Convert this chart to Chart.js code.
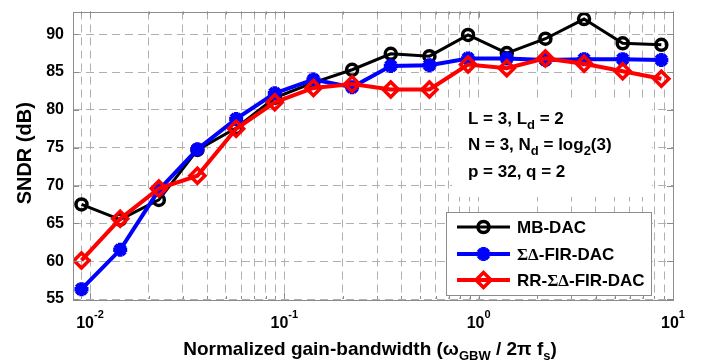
<!DOCTYPE html>
<html>
<head>
<meta charset="utf-8">
<script src="https://cdn.jsdelivr.net/npm/chart.js@4.4.0/dist/chart.umd.min.js"></script>
<style>
  html, body { margin: 0; padding: 0; background: #fff; }
  #wrap { width: 703px; height: 362px; position: relative; }
</style>
</head>
<body>
<div id="wrap"><canvas id="sndr"></canvas></div>
<script>
// normalized gain-bandwidth sweep (omega_GBW / 2 pi fs)
const gbw = [0.00904, 0.0143, 0.0226, 0.0357, 0.0565, 0.0893, 0.1412, 0.2232,
             0.3529, 0.558, 0.882, 1.395, 2.205, 3.486, 5.51, 8.71];

// SNDR in dB for each DAC
const sndrMB  = [67.5, 65.5, 68.1, 74.7, 77.6, 81.6, 83.6, 85.3, 87.4, 87.1, 89.9, 87.5, 89.4, 92.0, 88.8, 88.6];
const sndrFIR = [56.3, 61.5, 69.4, 74.8, 78.8, 82.2, 84.0, 83.0, 85.8, 85.9, 86.8, 86.8, 86.6, 86.7, 86.7, 86.6];
const sndrRR  = [60.1, 65.6, 69.6, 71.3, 77.5, 81.0, 82.9, 83.4, 82.7, 82.7, 86.0, 85.5, 86.8, 86.1, 85.1, 84.1];

const seriesNames = ['MB-DAC', 'ΣΔ-FIR-DAC', 'RR-ΣΔ-FIR-DAC'];

const yTicks = [55, 60, 65, 70, 75, 80, 85, 90];
const xDecades = [0.01, 0.1, 1, 10];
const xGrid = [0.009, 0.01, 0.02, 0.03, 0.04, 0.05, 0.06, 0.07, 0.08, 0.09,
               0.1, 0.2, 0.3, 0.4, 0.5, 0.6, 0.7, 0.8, 0.9,
               1, 2, 3, 4, 5, 6, 7, 8, 9, 10];

const SANS = '"Liberation Sans", Arial, sans-serif';
const SERIF = '"Liberation Serif", "Times New Roman", serif';
const GRID = '#b0b0b0';
const AXIS = '#8c8c8c';

function pts(ys) {
  return ys.map((y, i) => ({ x: gbw[i], y: y }));
}

// text runs with sub/superscripts: {t, size, dy, serif}
function runFont(p) {
  return 'bold ' + (p.size || 17) + 'px ' + (p.serif ? SERIF : SANS);
}
function richWidth(ctx, parts) {
  let w = 0;
  parts.forEach(p => { ctx.font = runFont(p); w += ctx.measureText(p.t).width; });
  return w;
}
function drawRich(ctx, parts, x, y, align) {
  let cx = x;
  if (align === 'center') cx = x - richWidth(ctx, parts) / 2;
  ctx.textAlign = 'left';
  ctx.textBaseline = 'alphabetic';
  parts.forEach(p => {
    ctx.font = runFont(p);
    ctx.fillText(p.t, cx, y + (p.dy || 0));
    cx += ctx.measureText(p.t).width;
  });
}

function drawMarker(ctx, ds, x, y) {
  ctx.save();
  ctx.lineWidth = ds.pointBorderWidth;
  ctx.strokeStyle = ds.borderColor;
  ctx.fillStyle = ds.pointBackgroundColor;
  Chart.helpers.drawPoint(ctx, {
    pointStyle: ds.pointStyle, radius: ds.pointRadius,
    borderWidth: ds.pointBorderWidth, rotation: 0
  }, x, y);
  ctx.restore();
}

const decor = {
  id: 'decor',
  beforeDatasetsDraw(chart) {
    const ctx = chart.ctx;
    // parameter box
    ctx.save();
    ctx.fillStyle = '#fff';
    ctx.fillRect(452, 100, 200, 97);
    ctx.fillStyle = '#000';
    drawRich(ctx, [{ t: 'L = 3, L' }, { t: 'd', size: 13, dy: 5 }, { t: ' = 2' }], 468, 124);
    drawRich(ctx, [{ t: 'N = 3, N' }, { t: 'd', size: 13, dy: 5 }, { t: ' = log' },
                   { t: '2', size: 13, dy: 5 }, { t: '(3)' }], 468, 150);
    drawRich(ctx, [{ t: 'p = 32, q = 2' }], 468, 177);
    ctx.restore();
  },
  afterDatasetsDraw(chart) {
    const ctx = chart.ctx;
    const a = chart.chartArea;
    const xs = chart.scales.x, ys = chart.scales.y;
    ctx.save();
    ctx.strokeStyle = AXIS;
    ctx.lineWidth = 1;
    ctx.setLineDash([]);
    // inward tick marks
    ctx.beginPath();
    xGrid.forEach(v => {
      const px = Math.round(xs.getPixelForValue(v)) + 0.5;
      const len = xDecades.includes(v) ? 6 : 3;
      ctx.moveTo(px, a.bottom); ctx.lineTo(px, a.bottom - len);
      ctx.moveTo(px, a.top); ctx.lineTo(px, a.top + len);
    });
    yTicks.forEach(v => {
      const py = Math.round(ys.getPixelForValue(v)) + 0.5;
      ctx.moveTo(a.left, py); ctx.lineTo(a.left + 6, py);
      ctx.moveTo(a.right, py); ctx.lineTo(a.right - 6, py);
    });
    ctx.stroke();
    ctx.strokeRect(Math.round(a.left) + 0.5, Math.round(a.top) + 0.5,
                   Math.round(a.right - a.left), Math.round(a.bottom - a.top));

    // legend
    ctx.fillStyle = '#fff';
    ctx.fillRect(446.5, 212.5, 205, 83);
    ctx.strokeRect(446.5, 212.5, 205, 83);
    const rows = [227, 254, 280];
    const labels = [
      [{ t: 'MB-DAC' }],
      [{ t: 'ΣΔ', serif: true }, { t: '-FIR-DAC' }],
      [{ t: 'RR-' }, { t: 'ΣΔ', serif: true }, { t: '-FIR-DAC' }]
    ];
    chart.data.datasets.forEach((ds, i) => {
      const y = rows[i];
      ctx.save();
      ctx.strokeStyle = ds.borderColor;
      ctx.lineWidth = ds.borderWidth;
      ctx.beginPath();
      ctx.moveTo(457, y); ctx.lineTo(510, y);
      ctx.stroke();
      ctx.restore();
      drawMarker(ctx, ds, 483.5, y);
      ctx.fillStyle = '#000';
      drawRich(ctx, labels[i], 517, y + 6);
    });
    ctx.restore();
  },
  afterDraw(chart) {
    const ctx = chart.ctx;
    const a = chart.chartArea;
    const xs = chart.scales.x;
    ctx.save();
    ctx.fillStyle = '#000';
    // decade labels 10^n
    xDecades.forEach(v => {
      const px = xs.getPixelForValue(v);
      const e = String(Math.round(Math.log10(v)));
      drawRich(ctx, [{ t: '10', size: 16 }, { t: e, size: 11, dy: -10 }], px, 328, 'center');
    });
    // x title
    drawRich(ctx, [
      { t: 'Normalized gain-bandwidth (', size: 19 },
      { t: 'ω', size: 19 },
      { t: 'GBW', size: 13, dy: 5 },
      { t: ' / 2π f', size: 19 },
      { t: 's', size: 13, dy: 5 },
      { t: ')', size: 19 }
    ], 370, 355, 'center');
    // y title
    ctx.translate(25, (a.top + a.bottom) / 2 - 2);
    ctx.rotate(-Math.PI / 2);
    ctx.font = 'bold 20px ' + SANS;
    ctx.textAlign = 'center';
    ctx.textBaseline = 'middle';
    ctx.fillText('SNDR (dB)', 0, 0);
    ctx.restore();
  }
};

const ctx = document.getElementById('sndr').getContext('2d');
new Chart(ctx, {
  type: 'line',
  data: {
    datasets: [
      {
        label: seriesNames[0], data: pts(sndrMB), order: 2,
        borderColor: '#000000', borderWidth: 3,
        pointStyle: 'circle', pointRadius: 5.5, pointBorderWidth: 3.5,
        pointBackgroundColor: 'rgba(0,0,0,0)'
      },
      {
        label: seriesNames[1], data: pts(sndrFIR), order: 1,
        borderColor: '#0000ff', borderWidth: 4,
        pointStyle: 'star', pointRadius: 7, pointBorderWidth: 4.5,
        pointBackgroundColor: '#0000ff'
      },
      {
        label: seriesNames[2], data: pts(sndrRR), order: 0,
        borderColor: '#ff0000', borderWidth: 4,
        pointStyle: 'rectRot', pointRadius: 7.5, pointBorderWidth: 3.5,
        pointBackgroundColor: 'rgba(0,0,0,0)'
      }
    ]
  },
  options: {
    responsive: true,
    maintainAspectRatio: false,
    animation: false,
    layout: { padding: { top: 7, right: 30, left: 0, bottom: 0 } },
    plugins: { legend: { display: false }, tooltip: { enabled: false } },
    elements: { line: { tension: 0 } },
    scales: {
      x: {
        type: 'logarithmic', min: 0.008175, max: 10,
        afterBuildTicks: s => { s.ticks = xGrid.map(v => ({ value: v })); },
        afterFit: s => { s.height = 63; s.paddingLeft = 0; s.paddingRight = 0; },
        ticks: { display: false },
        grid: { color: GRID, lineWidth: 1, drawTicks: false },
        border: { display: false, dash: [8, 5] }
      },
      y: {
        min: 55, max: 93,
        afterBuildTicks: s => { s.ticks = yTicks.map(v => ({ value: v })); },
        afterFit: s => { s.width = 73; s.paddingTop = 0; s.paddingBottom = 0; },
        ticks: { color: '#000', padding: 9, font: { family: SANS, size: 16, weight: 'bold' } },
        grid: { color: GRID, lineWidth: 1, drawTicks: false },
        border: { display: false, dash: [8, 5] }
      }
    }
  },
  plugins: [decor]
});
</script>
</body>
</html>
